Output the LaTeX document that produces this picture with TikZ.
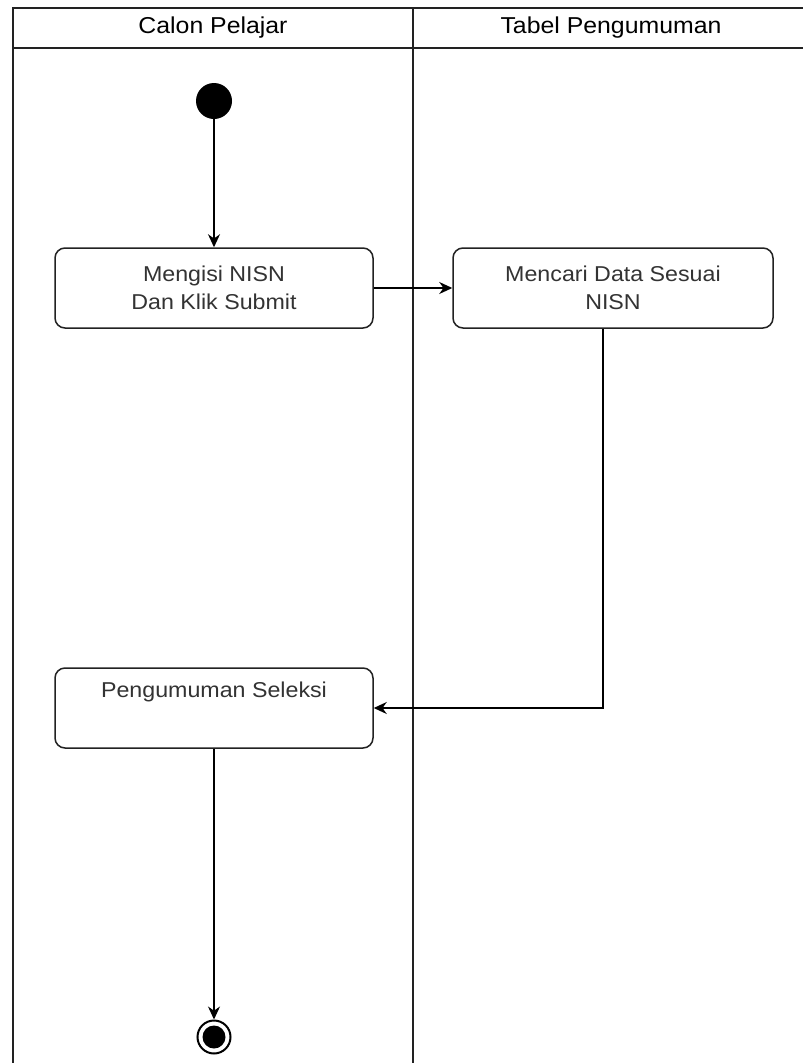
\documentclass[tikz,border=0pt]{standalone}
\usepackage{fontspec}
\setmainfont[FakeStretch=1.08]{Liberation Sans}
\usetikzlibrary{arrows.meta}
\definecolor{txt}{HTML}{333333}
\definecolor{frame}{HTML}{222222}
\tikzset{
  actbox/.style={draw=frame, line width=1.5pt, rounded corners=10pt, minimum width=318pt, minimum height=80pt, inner sep=0pt, align=center, text=txt, font=\fontsize{21.5}{28}\selectfont},
  flow/.style={draw=black, line width=1.4pt, -{Stealth[length=13pt,width=12pt]}},
  lane/.style={draw=frame, line width=2pt},
  head/.style={font=\fontsize{23}{28}\selectfont, text=black, inner sep=0pt}
}
\begin{document}
\begin{tikzpicture}[x=1pt,y=-1pt]
\useasboundingbox (0,0) rectangle (803,1063);
\fill[white] (0,0) rectangle (803,1063);
\clip (0,0) rectangle (803,1063);
% swimlane frame
\draw[lane] (13,1075) -- (13,8) -- (815,8);
\draw[lane] (13,48) -- (815,48);
\draw[lane] (413,8) -- (413,1075);
\node[head] (h1) at (213,28) {Calon Pelajar};
\node[head] (h2) at (611,28) {Tabel Pengumuman};
% nodes
\node[circle, fill=black, minimum width=36pt, minimum height=36pt, inner sep=0pt] (start) at (214,101) {};
\node[actbox] (b1) at (214,288) {Mengisi NISN\\Dan Klik Submit};
\node[actbox, minimum width=320pt] (b2) at (613,288) {Mencari Data Sesuai\\NISN};
\node[actbox] (b3) at (214,708) {Pengumuman Seleksi\\\strut};
\node[circle, draw=black, line width=2pt, minimum size=33pt, inner sep=0pt] (end) at (214,1037) {};
\node[circle, fill=black, minimum size=23pt, inner sep=0pt] (endin) at (end.center) {};
% connectors
\coordinate (c1) at (603,708);
\draw[flow] (start) -- (b1.north);
\draw[flow] (b1.east) -- (b2.west);
\draw[flow] (b2.south -| c1) -- (c1) -- (b3.east);
\draw[flow] (b3.south) -- (end.north);
\end{tikzpicture}
\end{document}
